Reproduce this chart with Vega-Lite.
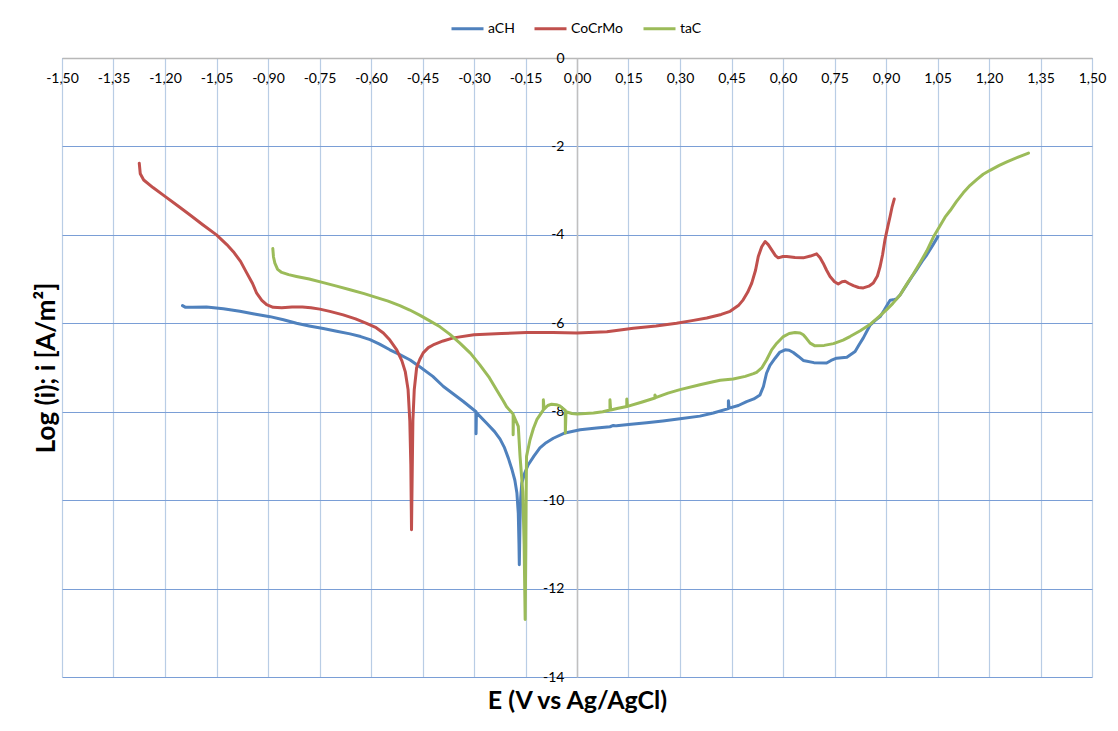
{
"$schema": "https://vega.github.io/schema/vega-lite/v6.json",
"width": 1030,
"height": 619,
"autosize": {"type": "none"},
"padding": {"left": 62, "top": 58, "right": 26, "bottom": 54},
"background": "white",
"config": {"view": {"stroke": null}, "font": "Lato"},
"data": {"values": [
{"s":"aCH","E":-1.149,"L":-5.60},{"s":"aCH","E":-1.140,"L":-5.64},{"s":"aCH","E":-1.12,"L":-5.64},{"s":"aCH","E":-1.079,"L":-5.63},{"s":"aCH","E":-1.03,"L":-5.67},{"s":"aCH","E":-0.982,"L":-5.73},{"s":"aCH","E":-0.94,"L":-5.79},{"s":"aCH","E":-0.894,"L":-5.85},{"s":"aCH","E":-0.855,"L":-5.92},{"s":"aCH","E":-0.817,"L":-6.0},{"s":"aCH","E":-0.78,"L":-6.06},{"s":"aCH","E":-0.739,"L":-6.12},{"s":"aCH","E":-0.70,"L":-6.18},{"s":"aCH","E":-0.661,"L":-6.24},{"s":"aCH","E":-0.63,"L":-6.3},{"s":"aCH","E":-0.603,"L":-6.37},{"s":"aCH","E":-0.575,"L":-6.47},{"s":"aCH","E":-0.545,"L":-6.60},{"s":"aCH","E":-0.516,"L":-6.71},{"s":"aCH","E":-0.486,"L":-6.83},{"s":"aCH","E":-0.457,"L":-6.99},{"s":"aCH","E":-0.42,"L":-7.2},{"s":"aCH","E":-0.389,"L":-7.43},{"s":"aCH","E":-0.36,"L":-7.6},{"s":"aCH","E":-0.331,"L":-7.77},{"s":"aCH","E":-0.294,"L":-8.0},{"s":"aCH","E":-0.294,"L":-8.5},{"s":"aCH","E":-0.293,"L":-8.02},{"s":"aCH","E":-0.263,"L":-8.26},{"s":"aCH","E":-0.24,"L":-8.45},{"s":"aCH","E":-0.224,"L":-8.62},{"s":"aCH","E":-0.212,"L":-8.8},{"s":"aCH","E":-0.200,"L":-9.05},{"s":"aCH","E":-0.189,"L":-9.32},{"s":"aCH","E":-0.181,"L":-9.55},{"s":"aCH","E":-0.175,"L":-9.84},{"s":"aCH","E":-0.171,"L":-10.3},{"s":"aCH","E":-0.169,"L":-11.0},{"s":"aCH","E":-0.168,"L":-11.46},{"s":"aCH","E":-0.166,"L":-10.5},{"s":"aCH","E":-0.164,"L":-9.95},{"s":"aCH","E":-0.161,"L":-9.62},{"s":"aCH","E":-0.152,"L":-9.38},{"s":"aCH","E":-0.142,"L":-9.20},{"s":"aCH","E":-0.125,"L":-9.0},{"s":"aCH","E":-0.108,"L":-8.82},{"s":"aCH","E":-0.09,"L":-8.7},{"s":"aCH","E":-0.069,"L":-8.60},{"s":"aCH","E":-0.035,"L":-8.48},{"s":"aCH","E":0.009,"L":-8.41},{"s":"aCH","E":0.057,"L":-8.37},{"s":"aCH","E":0.096,"L":-8.34},{"s":"aCH","E":0.106,"L":-8.31},{"s":"aCH","E":0.115,"L":-8.32},{"s":"aCH","E":0.15,"L":-8.29},{"s":"aCH","E":0.203,"L":-8.25},{"s":"aCH","E":0.25,"L":-8.21},{"s":"aCH","E":0.30,"L":-8.16},{"s":"aCH","E":0.358,"L":-8.10},{"s":"aCH","E":0.397,"L":-8.03},{"s":"aCH","E":0.441,"L":-7.93},{"s":"aCH","E":0.441,"L":-7.75},{"s":"aCH","E":0.443,"L":-7.92},{"s":"aCH","E":0.47,"L":-7.86},{"s":"aCH","E":0.494,"L":-7.77},{"s":"aCH","E":0.515,"L":-7.71},{"s":"aCH","E":0.533,"L":-7.62},{"s":"aCH","E":0.543,"L":-7.43},{"s":"aCH","E":0.552,"L":-7.13},{"s":"aCH","E":0.562,"L":-6.95},{"s":"aCH","E":0.577,"L":-6.79},{"s":"aCH","E":0.59,"L":-6.66},{"s":"aCH","E":0.606,"L":-6.60},{"s":"aCH","E":0.618,"L":-6.61},{"s":"aCH","E":0.630,"L":-6.66},{"s":"aCH","E":0.645,"L":-6.75},{"s":"aCH","E":0.659,"L":-6.84},{"s":"aCH","E":0.69,"L":-6.89},{"s":"aCH","E":0.727,"L":-6.90},{"s":"aCH","E":0.740,"L":-6.84},{"s":"aCH","E":0.756,"L":-6.79},{"s":"aCH","E":0.786,"L":-6.77},{"s":"aCH","E":0.810,"L":-6.64},{"s":"aCH","E":0.822,"L":-6.48},{"s":"aCH","E":0.834,"L":-6.33},{"s":"aCH","E":0.853,"L":-6.05},{"s":"aCH","E":0.868,"L":-5.94},{"s":"aCH","E":0.883,"L":-5.85},{"s":"aCH","E":0.895,"L":-5.7},{"s":"aCH","E":0.907,"L":-5.54},{"s":"aCH","E":0.912,"L":-5.48},{"s":"aCH","E":0.921,"L":-5.47},{"s":"aCH","E":0.93,"L":-5.45},{"s":"aCH","E":0.941,"L":-5.36},{"s":"aCH","E":0.950,"L":-5.25},{"s":"aCH","E":0.960,"L":-5.13},{"s":"aCH","E":0.975,"L":-4.95},{"s":"aCH","E":0.989,"L":-4.79},{"s":"aCH","E":1.005,"L":-4.6},{"s":"aCH","E":1.019,"L":-4.45},{"s":"aCH","E":1.035,"L":-4.25},{"s":"aCH","E":1.051,"L":-4.04},
{"s":"CoCrMo","E":-1.275,"L":-2.38},{"s":"CoCrMo","E":-1.272,"L":-2.62},{"s":"CoCrMo","E":-1.262,"L":-2.76},{"s":"CoCrMo","E":-1.235,"L":-2.93},{"s":"CoCrMo","E":-1.20,"L":-3.13},{"s":"CoCrMo","E":-1.16,"L":-3.36},{"s":"CoCrMo","E":-1.127,"L":-3.55},{"s":"CoCrMo","E":-1.09,"L":-3.77},{"s":"CoCrMo","E":-1.05,"L":-4.0},{"s":"CoCrMo","E":-1.02,"L":-4.22},{"s":"CoCrMo","E":-1.001,"L":-4.38},{"s":"CoCrMo","E":-0.98,"L":-4.6},{"s":"CoCrMo","E":-0.962,"L":-4.86},{"s":"CoCrMo","E":-0.945,"L":-5.1},{"s":"CoCrMo","E":-0.933,"L":-5.32},{"s":"CoCrMo","E":-0.918,"L":-5.48},{"s":"CoCrMo","E":-0.904,"L":-5.58},{"s":"CoCrMo","E":-0.885,"L":-5.64},{"s":"CoCrMo","E":-0.86,"L":-5.65},{"s":"CoCrMo","E":-0.83,"L":-5.63},{"s":"CoCrMo","E":-0.80,"L":-5.63},{"s":"CoCrMo","E":-0.775,"L":-5.65},{"s":"CoCrMo","E":-0.749,"L":-5.68},{"s":"CoCrMo","E":-0.72,"L":-5.73},{"s":"CoCrMo","E":-0.681,"L":-5.81},{"s":"CoCrMo","E":-0.645,"L":-5.9},{"s":"CoCrMo","E":-0.613,"L":-6.0},{"s":"CoCrMo","E":-0.585,"L":-6.1},{"s":"CoCrMo","E":-0.564,"L":-6.22},{"s":"CoCrMo","E":-0.545,"L":-6.38},{"s":"CoCrMo","E":-0.525,"L":-6.6},{"s":"CoCrMo","E":-0.51,"L":-6.85},{"s":"CoCrMo","E":-0.50,"L":-7.1},{"s":"CoCrMo","E":-0.492,"L":-7.5},{"s":"CoCrMo","E":-0.487,"L":-8.2},{"s":"CoCrMo","E":-0.484,"L":-9.2},{"s":"CoCrMo","E":-0.482,"L":-10.67},{"s":"CoCrMo","E":-0.480,"L":-9.4},{"s":"CoCrMo","E":-0.478,"L":-8.2},{"s":"CoCrMo","E":-0.474,"L":-7.5},{"s":"CoCrMo","E":-0.467,"L":-7.0},{"s":"CoCrMo","E":-0.458,"L":-6.82},{"s":"CoCrMo","E":-0.448,"L":-6.67},{"s":"CoCrMo","E":-0.433,"L":-6.55},{"s":"CoCrMo","E":-0.419,"L":-6.49},{"s":"CoCrMo","E":-0.39,"L":-6.4},{"s":"CoCrMo","E":-0.36,"L":-6.33},{"s":"CoCrMo","E":-0.30,"L":-6.26},{"s":"CoCrMo","E":-0.22,"L":-6.23},{"s":"CoCrMo","E":-0.147,"L":-6.21},{"s":"CoCrMo","E":-0.07,"L":-6.21},{"s":"CoCrMo","E":0.0,"L":-6.22},{"s":"CoCrMo","E":0.087,"L":-6.19},{"s":"CoCrMo","E":0.164,"L":-6.11},{"s":"CoCrMo","E":0.23,"L":-6.06},{"s":"CoCrMo","E":0.29,"L":-6.0},{"s":"CoCrMo","E":0.335,"L":-5.94},{"s":"CoCrMo","E":0.378,"L":-5.88},{"s":"CoCrMo","E":0.42,"L":-5.8},{"s":"CoCrMo","E":0.446,"L":-5.73},{"s":"CoCrMo","E":0.47,"L":-5.6},{"s":"CoCrMo","E":0.484,"L":-5.47},{"s":"CoCrMo","E":0.497,"L":-5.3},{"s":"CoCrMo","E":0.509,"L":-5.09},{"s":"CoCrMo","E":0.52,"L":-4.8},{"s":"CoCrMo","E":0.528,"L":-4.49},{"s":"CoCrMo","E":0.538,"L":-4.27},{"s":"CoCrMo","E":0.548,"L":-4.15},{"s":"CoCrMo","E":0.557,"L":-4.22},{"s":"CoCrMo","E":0.567,"L":-4.34},{"s":"CoCrMo","E":0.578,"L":-4.47},{"s":"CoCrMo","E":0.586,"L":-4.52},{"s":"CoCrMo","E":0.60,"L":-4.49},{"s":"CoCrMo","E":0.611,"L":-4.49},{"s":"CoCrMo","E":0.635,"L":-4.51},{"s":"CoCrMo","E":0.659,"L":-4.52},{"s":"CoCrMo","E":0.68,"L":-4.48},{"s":"CoCrMo","E":0.698,"L":-4.43},{"s":"CoCrMo","E":0.708,"L":-4.52},{"s":"CoCrMo","E":0.717,"L":-4.64},{"s":"CoCrMo","E":0.727,"L":-4.8},{"s":"CoCrMo","E":0.737,"L":-4.94},{"s":"CoCrMo","E":0.75,"L":-5.06},{"s":"CoCrMo","E":0.761,"L":-5.11},{"s":"CoCrMo","E":0.772,"L":-5.06},{"s":"CoCrMo","E":0.781,"L":-5.05},{"s":"CoCrMo","E":0.792,"L":-5.1},{"s":"CoCrMo","E":0.805,"L":-5.15},{"s":"CoCrMo","E":0.82,"L":-5.19},{"s":"CoCrMo","E":0.834,"L":-5.20},{"s":"CoCrMo","E":0.85,"L":-5.16},{"s":"CoCrMo","E":0.863,"L":-5.09},{"s":"CoCrMo","E":0.875,"L":-4.93},{"s":"CoCrMo","E":0.883,"L":-4.71},{"s":"CoCrMo","E":0.89,"L":-4.45},{"s":"CoCrMo","E":0.897,"L":-4.11},{"s":"CoCrMo","E":0.905,"L":-3.82},{"s":"CoCrMo","E":0.912,"L":-3.58},{"s":"CoCrMo","E":0.918,"L":-3.36},{"s":"CoCrMo","E":0.924,"L":-3.19},
{"s":"taC","E":-0.886,"L":-4.31},{"s":"taC","E":-0.884,"L":-4.5},{"s":"taC","E":-0.880,"L":-4.64},{"s":"taC","E":-0.872,"L":-4.78},{"s":"taC","E":-0.860,"L":-4.85},{"s":"taC","E":-0.84,"L":-4.9},{"s":"taC","E":-0.817,"L":-4.94},{"s":"taC","E":-0.78,"L":-5.0},{"s":"taC","E":-0.739,"L":-5.08},{"s":"taC","E":-0.70,"L":-5.16},{"s":"taC","E":-0.661,"L":-5.24},{"s":"taC","E":-0.62,"L":-5.33},{"s":"taC","E":-0.583,"L":-5.42},{"s":"taC","E":-0.55,"L":-5.5},{"s":"taC","E":-0.516,"L":-5.6},{"s":"taC","E":-0.487,"L":-5.7},{"s":"taC","E":-0.457,"L":-5.82},{"s":"taC","E":-0.43,"L":-5.94},{"s":"taC","E":-0.399,"L":-6.08},{"s":"taC","E":-0.37,"L":-6.25},{"s":"taC","E":-0.341,"L":-6.45},{"s":"taC","E":-0.31,"L":-6.68},{"s":"taC","E":-0.283,"L":-6.94},{"s":"taC","E":-0.257,"L":-7.21},{"s":"taC","E":-0.234,"L":-7.51},{"s":"taC","E":-0.215,"L":-7.75},{"s":"taC","E":-0.205,"L":-7.89},{"s":"taC","E":-0.186,"L":-8.05},{"s":"taC","E":-0.186,"L":-8.52},{"s":"taC","E":-0.185,"L":-8.08},{"s":"taC","E":-0.171,"L":-8.33},{"s":"taC","E":-0.166,"L":-9.0},{"s":"taC","E":-0.158,"L":-9.8},{"s":"taC","E":-0.154,"L":-11.0},{"s":"taC","E":-0.151,"L":-12.7},{"s":"taC","E":-0.149,"L":-11.0},{"s":"taC","E":-0.148,"L":-9.8},{"s":"taC","E":-0.147,"L":-9.01},{"s":"taC","E":-0.137,"L":-8.64},{"s":"taC","E":-0.127,"L":-8.38},{"s":"taC","E":-0.117,"L":-8.18},{"s":"taC","E":-0.098,"L":-7.96},{"s":"taC","E":-0.098,"L":-7.73},{"s":"taC","E":-0.096,"L":-7.94},{"s":"taC","E":-0.085,"L":-7.86},{"s":"taC","E":-0.074,"L":-7.83},{"s":"taC","E":-0.060,"L":-7.84},{"s":"taC","E":-0.050,"L":-7.87},{"s":"taC","E":-0.034,"L":-7.97},{"s":"taC","E":-0.034,"L":-8.48},{"s":"taC","E":-0.032,"L":-8.0},{"s":"taC","E":-0.015,"L":-8.04},{"s":"taC","E":0.0,"L":-8.05},{"s":"taC","E":0.048,"L":-8.03},{"s":"taC","E":0.075,"L":-8.0},{"s":"taC","E":0.096,"L":-7.96},{"s":"taC","E":0.096,"L":-7.73},{"s":"taC","E":0.098,"L":-7.96},{"s":"taC","E":0.12,"L":-7.92},{"s":"taC","E":0.145,"L":-7.88},{"s":"taC","E":0.145,"L":-7.71},{"s":"taC","E":0.147,"L":-7.88},{"s":"taC","E":0.19,"L":-7.78},{"s":"taC","E":0.227,"L":-7.69},{"s":"taC","E":0.227,"L":-7.62},{"s":"taC","E":0.229,"L":-7.68},{"s":"taC","E":0.265,"L":-7.58},{"s":"taC","E":0.30,"L":-7.50},{"s":"taC","E":0.358,"L":-7.39},{"s":"taC","E":0.387,"L":-7.34},{"s":"taC","E":0.417,"L":-7.29},{"s":"taC","E":0.455,"L":-7.26},{"s":"taC","E":0.49,"L":-7.2},{"s":"taC","E":0.514,"L":-7.14},{"s":"taC","E":0.523,"L":-7.11},{"s":"taC","E":0.538,"L":-7.01},{"s":"taC","E":0.552,"L":-6.83},{"s":"taC","E":0.567,"L":-6.60},{"s":"taC","E":0.582,"L":-6.45},{"s":"taC","E":0.601,"L":-6.30},{"s":"taC","E":0.618,"L":-6.23},{"s":"taC","E":0.635,"L":-6.21},{"s":"taC","E":0.650,"L":-6.22},{"s":"taC","E":0.659,"L":-6.26},{"s":"taC","E":0.668,"L":-6.34},{"s":"taC","E":0.679,"L":-6.45},{"s":"taC","E":0.693,"L":-6.51},{"s":"taC","E":0.72,"L":-6.5},{"s":"taC","E":0.747,"L":-6.46},{"s":"taC","E":0.775,"L":-6.38},{"s":"taC","E":0.795,"L":-6.30},{"s":"taC","E":0.825,"L":-6.17},{"s":"taC","E":0.853,"L":-6.03},{"s":"taC","E":0.878,"L":-5.86},{"s":"taC","E":0.902,"L":-5.69},{"s":"taC","E":0.92,"L":-5.55},{"s":"taC","E":0.941,"L":-5.36},{"s":"taC","E":0.96,"L":-5.12},{"s":"taC","E":0.980,"L":-4.88},{"s":"taC","E":1.0,"L":-4.62},{"s":"taC","E":1.019,"L":-4.36},{"s":"taC","E":1.038,"L":-4.05},{"s":"taC","E":1.057,"L":-3.80},{"s":"taC","E":1.072,"L":-3.6},{"s":"taC","E":1.087,"L":-3.45},{"s":"taC","E":1.105,"L":-3.25},{"s":"taC","E":1.125,"L":-3.05},{"s":"taC","E":1.145,"L":-2.88},{"s":"taC","E":1.164,"L":-2.75},{"s":"taC","E":1.183,"L":-2.63},{"s":"taC","E":1.203,"L":-2.54},{"s":"taC","E":1.23,"L":-2.43},{"s":"taC","E":1.252,"L":-2.35},{"s":"taC","E":1.285,"L":-2.24},{"s":"taC","E":1.315,"L":-2.15}
]},
"mark": {"type": "line", "strokeWidth": 3, "strokeJoin": "round", "strokeCap": "round"},
"encoding": {
  "x": {"field": "E", "type": "quantitative",
    "scale": {"domain": [-1.5, 1.5], "nice": false, "zero": false},
    "axis": {"orient": "bottom", "offset": -619,
      "values": [-1.5,-1.35,-1.2,-1.05,-0.9,-0.75,-0.6,-0.45,-0.3,-0.15,0,0.15,0.3,0.45,0.6,0.75,0.9,1.05,1.2,1.35,1.5],
      "labelExpr": "(datum.value < 0 ? '-' : '') + replace(format(abs(datum.value), '.2f'), '.', ',')",
      "labelFont": "Lato", "labelFontSize": 14, "labelColor": "#000000", "labelPadding": 13,
      "labelFlush": false, "labelOverlap": false, "labelBound": false,
      "ticks": false, "domainColor": "#b8b8b8", "domainWidth": 1.5,
      "grid": true, "gridColor": "#b9cde5", "gridWidth": 1.2, "gridOpacity": 1,
      "title": "E (V vs Ag/AgCl)", "titleFont": "Lato", "titleFontSize": 25, "titleFontWeight": "bold", "titleColor": "#000000",
      "titleX": 515, "titleY": 642, "titleBaseline": "middle", "titleAlign": "center"}},
  "y": {"field": "L", "type": "quantitative",
    "scale": {"domain": [-14, 0], "nice": false, "zero": false},
    "axis": {"orient": "left", "offset": -515,
      "values": [-14,-12,-10,-8,-6,-4,-2,0],
      "labelExpr": "(datum.value < 0 ? '-' : '') + format(abs(datum.value), 'd')",
      "labelFont": "Lato", "labelFontSize": 14, "labelColor": "#000000", "labelPadding": 13,
      "labelFlush": false, "labelOverlap": false, "labelBound": false, "labelBaseline": "middle",
      "ticks": false, "domainColor": "#c0c0c0", "domainWidth": 1.5,
      "grid": true, "gridColor": "#7a9ed6", "gridWidth": 1, "gridOpacity": 1,
      "title": "Log (i); i [A/m²]", "titleFont": "Lato", "titleFontSize": 26, "titleFontWeight": "bold", "titleColor": "#000000",
      "titleX": -531, "titleY": 309.5, "titleAngle": -90, "titleBaseline": "middle", "titleAlign": "center"}},
  "color": {"field": "s", "type": "nominal",
    "scale": {"domain": ["aCH", "CoCrMo", "taC"], "range": ["#4F81BD", "#C0504D", "#9BBB59"]},
    "legend": {"orient": "none", "legendX": 388, "legendY": -47, "direction": "horizontal", "title": null,
      "symbolType": "stroke", "symbolSize": 1024, "symbolStrokeWidth": 3,
      "labelFont": "Lato", "labelFontSize": 14, "labelColor": "#000000", "labelOffset": 3, "columnPadding": 13, "padding": 0}},
  "order": {"value": null}
}
}
